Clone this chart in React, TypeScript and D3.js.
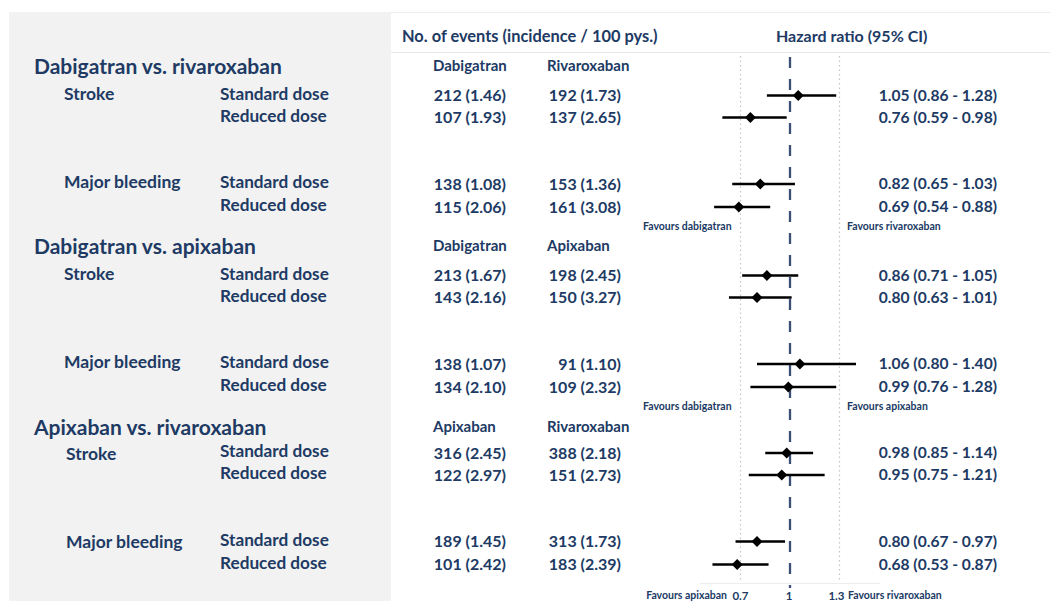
import React, { useEffect } from "react";
import * as d3 from "d3";

const comparisons = ["Dabigatran vs. rivaroxaban", "Dabigatran vs. apixaban", "Apixaban vs. rivaroxaban"];
const drugA = ["Dabigatran", "Dabigatran", "Apixaban"];
const drugB = ["Rivaroxaban", "Apixaban", "Rivaroxaban"];
const favoursA = ["Favours dabigatran", "Favours dabigatran", "Favours apixaban"];
const favoursB = ["Favours rivaroxaban", "Favours apixaban", "Favours rivaroxaban"];
const outcomes = ["Stroke", "Major bleeding"];
const doses = ["Standard dose", "Reduced dose"];

// rows: comparison-major, then outcome, then dose
const eventsA = ["212 (1.46)", "107 (1.93)", "138 (1.08)", "115 (2.06)", "213 (1.67)", "143 (2.16)", "138 (1.07)", "134 (2.10)", "316 (2.45)", "122 (2.97)", "189 (1.45)", "101 (2.42)"];
const eventsB = ["192 (1.73)", "137 (2.65)", "153 (1.36)", "161 (3.08)", "198 (2.45)", "150 (3.27)", "91 (1.10)", "109 (2.32)", "388 (2.18)", "151 (2.73)", "313 (1.73)", "183 (2.39)"];
const hr = [1.05, 0.76, 0.82, 0.69, 0.86, 0.8, 1.06, 0.99, 0.98, 0.95, 0.8, 0.68];
const lower = [0.86, 0.59, 0.65, 0.54, 0.71, 0.63, 0.8, 0.76, 0.85, 0.75, 0.67, 0.53];
const upper = [1.28, 0.98, 1.03, 0.88, 1.05, 1.01, 1.4, 1.28, 1.14, 1.21, 0.97, 0.87];
const axisTicks = [0.7, 1, 1.3];

const W = 1052;
const H = 601;
const NAVY = "#203a64";
const FONT = "Lato, 'Open Sans', sans-serif";

export default function App() {
  useEffect(() => {
    document.body.style.margin = "0";
  }, []);

  const x = d3.scaleLinear().domain([0.7, 1.3]).range([740.5, 839.5]);
  const blockTop = [65, 245, 426];
  const blockShift = [0, 0, -3.5];
  const slotOffset = [0, 29.5, 51.5, 118, 141, 161];
  const slotY = (b: number, s: number) => blockTop[b] + slotOffset[s] + (s > 0 ? blockShift[b] : 0);
  const rowY = (i: number) => slotY(Math.floor(i / 4), (i % 4) + 1);
  const diamond = d3.symbol().type(d3.symbolSquare).size(60)();
  const fmt = (v: number) => v.toFixed(2);

  const rows = hr.map((h, i) => ({ h, lo: lower[i], hi: upper[i], a: eventsA[i], b: eventsB[i], i }));
  const common = { fill: NAVY, fontWeight: 700, dominantBaseline: "central" as const };

  return (
    <svg width={W} height={H} style={{ display: "block" }} fontFamily={FONT}>
      <rect x={0} y={0} width={W} height={H} fill="#ffffff" />
      <rect x={9} y={12} width={382} height={589} fill="#f2f2f2" />
      <line x1={391} x2={1050} y1={12.5} y2={12.5} stroke="#ececec" />
      <line x1={391} x2={1050} y1={52.5} y2={52.5} stroke="#e8e8e8" />
      <line x1={700} x2={880} y1={583.5} y2={583.5} stroke="#ededed" />

      <text x={402} y={35} fontSize={16.4} {...common}>
        No. of events (incidence / 100 pys.)
      </text>
      <text x={776} y={35} fontSize={16} {...common}>
        Hazard ratio (95% CI)
      </text>

      {/* reference lines */}
      {[0.7, 1.3].map((t) => (
        <line key={t} x1={x(t)} x2={x(t)} y1={56} y2={582} stroke="#c4c4c4" strokeWidth={1.2} strokeDasharray="1.5 3" />
      ))}
      <line x1={x(1)} x2={x(1)} y1={57} y2={588} stroke="#3b4f75" strokeWidth={2.3} strokeDasharray="11 11" />

      {comparisons.map((c, b) => {
        const y0 = blockTop[b];
        return (
          <g key={c}>
            <text x={34} y={y0} fontSize={21} {...common}>
              {c}
            </text>
            <text x={433} y={y0} fontSize={15} {...common}>
              {drugA[b]}
            </text>
            <text x={547} y={y0} fontSize={15} {...common}>
              {drugB[b]}
            </text>
            {outcomes.map((o, k) => (
              <text key={o} x={b === 2 ? 66 : 64} y={slotY(b, k === 0 ? 1 : 3) - 1.5 + (b === 2 ? 2.5 : 0)} fontSize={17.5} {...common}>
                {o}
              </text>
            ))}
            {outcomes.map((o, k) =>
              doses.map((d, j) => (
                <text key={o + d} x={220} y={slotY(b, k * 2 + j + 1) - 1.5} fontSize={17.2} {...common}>
                  {d}
                </text>
              ))
            )}
            {b < 2 ? (
              <g>
                <text x={643} y={slotY(b, 5)} fontSize={10.5} {...common}>
                  {favoursA[b]}
                </text>
                <text x={847} y={slotY(b, 5)} fontSize={10.5} {...common}>
                  {favoursB[b]}
                </text>
              </g>
            ) : null}
          </g>
        );
      })}

      {rows.map((r) => {
        const y = rowY(r.i);
        return (
          <g key={r.i}>
            <text x={506} y={y} textAnchor="end" fontSize={16} {...common}>
              {r.a}
            </text>
            <text x={621} y={y} textAnchor="end" fontSize={16} {...common}>
              {r.b}
            </text>
            <line x1={x(r.lo)} x2={x(r.hi)} y1={y + 1} y2={y + 1} stroke="#000" strokeWidth={2.5} />
            <path d={diamond} transform={`translate(${x(r.h)},${y + 1}) rotate(45)`} fill="#000" />
            <text x={997} y={y} textAnchor="end" fontSize={15.6} {...common}>
              {`${fmt(r.h)} (${fmt(r.lo)} - ${fmt(r.hi)})`}
            </text>
          </g>
        );
      })}

      {/* bottom axis */}
      {axisTicks.map((t, k) => (
        <text key={t} x={x(t)} dx={k === 0 ? 0 : k === 1 ? -1 : -3} y={595} textAnchor="middle" fontSize={11.5} {...common}>
          {String(t)}
        </text>
      ))}
      <text x={727} y={595} textAnchor="end" fontSize={10.5} {...common}>
        {favoursA[2]}
      </text>
      <text x={848} y={595} fontSize={10.5} {...common}>
        {favoursB[2]}
      </text>
    </svg>
  );
}
